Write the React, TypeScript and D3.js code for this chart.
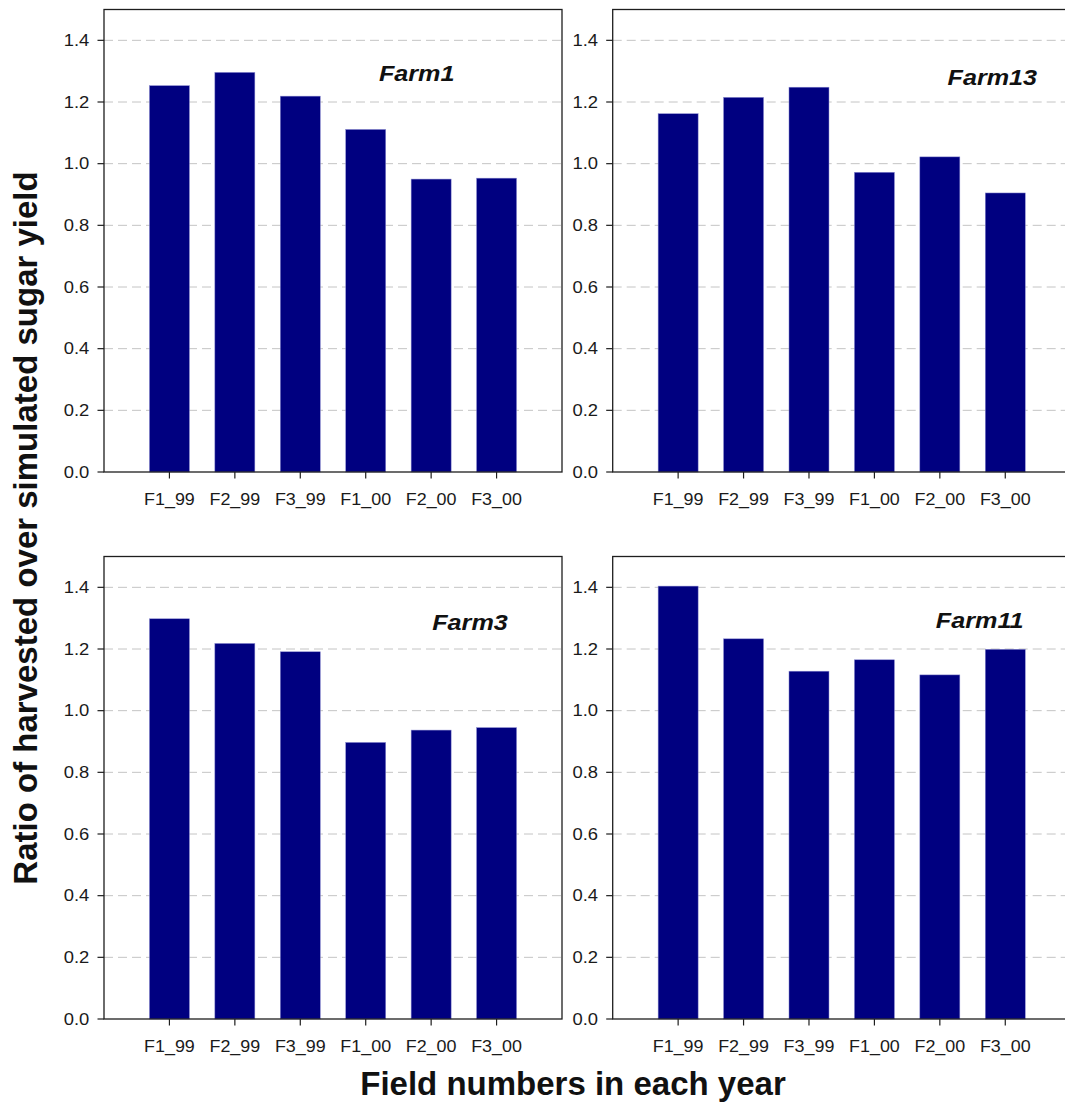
import React from "react";
import * as d3 from "d3";

const categories = ["F1_99", "F2_99", "F3_99", "F1_00", "F2_00", "F3_00"];
const farm1 = [1.253, 1.296, 1.219, 1.111, 0.95, 0.953];
const farm13 = [1.162, 1.215, 1.248, 0.972, 1.022, 0.905];
const farm3 = [1.298, 1.218, 1.191, 0.897, 0.937, 0.945];
const farm11 = [1.404, 1.233, 1.128, 1.165, 1.116, 1.199];
const panelNames = ["Farm1", "Farm13", "Farm3", "Farm11"];
const yTicks = [0, 0.2, 0.4, 0.6, 0.8, 1.0, 1.2, 1.4];

const W = 1065;
const H = 1104;
const PW = 458;
const PH = 462.5;
const FONT = "Arial, 'Liberation Sans', Helvetica, sans-serif";

const panels = [
  { values: farm1, name: panelNames[0], left: 104, top: 9.5, lx: 312.7, ly: 71.5 },
  { values: farm13, name: panelNames[1], left: 612.7, top: 9.5, lx: 379.6, ly: 75.5 },
  { values: farm3, name: panelNames[2], left: 104, top: 556.5, lx: 366, ly: 73.5 },
  { values: farm11, name: panelNames[3], left: 612.7, top: 556.5, lx: 367, ly: 71 },
];

function Panel({ values, name, left, top, lx, ly }: any) {
  const x = d3.scalePoint<string>().domain(categories).range([0, PW]).padding(1);
  const y = d3.scaleLinear().domain([0, 1.5]).range([PH, 0]);
  const barW = 40;
  return (
    <g transform={`translate(${left},${top})`}>
      {yTicks.filter((t) => t > 0).map((t) => (
        <line key={"g" + t} x1={0} x2={PW} y1={y(t)} y2={y(t)} stroke="#c4c4c4" strokeWidth={1} strokeDasharray="9,5" />
      ))}
      {values.map((v: number, i: number) => (
        <rect
          key={i}
          x={(x(categories[i]) as number) - barW / 2}
          y={y(v)}
          width={barW}
          height={PH - y(v)}
          fill="#000080"
          stroke="#8a8ad0"
          strokeWidth={0.5}
        />
      ))}
      <rect x={0} y={0} width={PW} height={PH} fill="none" stroke="#1e1e1e" strokeWidth={1.3} />
      {yTicks.map((t) => (
        <g key={"y" + t}>
          <line x1={-6.5} x2={0} y1={y(t)} y2={y(t)} stroke="#1e1e1e" strokeWidth={1.2} />
          <g transform={`translate(${-14.7},${y(t) + 5.8}) scale(1.15,1)`}>
            <text textAnchor="end" fontSize={16} fontFamily={FONT} fill="#1a1a1a">
              {t.toFixed(1)}
            </text>
          </g>
        </g>
      ))}
      {categories.map((c) => (
        <g key={c}>
          <line x1={x(c)} x2={x(c)} y1={PH} y2={PH + 6.5} stroke="#1e1e1e" strokeWidth={1.2} />
          <g transform={`translate(${x(c)},${PH + 33}) scale(1.12,1)`}>
            <text textAnchor="middle" fontSize={16} fontFamily={FONT} fill="#1a1a1a">
              {c}
            </text>
          </g>
        </g>
      ))}
      <g transform={`translate(${lx},${ly}) scale(1.12,1)`}>
        <text textAnchor="middle" fontSize={22.5} fontWeight="bold" fontStyle="italic" fontFamily={FONT} fill="#111">
          {name}
        </text>
      </g>
    </g>
  );
}

export default function App() {
  return (
    <div style={{ position: "relative", width: 0, height: 0, overflow: "visible" }}>
      <svg
        width={W}
        height={H}
        viewBox={`0 0 ${W} ${H}`}
        style={{ position: "fixed", left: 0, top: 0, background: "#fff", display: "block" }}
      >
        <rect x={0} y={0} width={W} height={H} fill="#fff" />
        {panels.map((p) => (
          <Panel key={p.name} {...p} />
        ))}
        <text
          transform={`translate(37,528) rotate(-90)`}
          textAnchor="middle"
          fontSize={33}
          fontWeight="bold"
          fontFamily={FONT}
          fill="#111"
        >
          Ratio of harvested over simulated sugar yield
        </text>
        <text x={573} y={1095} textAnchor="middle" fontSize={33} fontWeight="bold" fontFamily={FONT} fill="#111">
          Field numbers in each year
        </text>
      </svg>
    </div>
  );
}
